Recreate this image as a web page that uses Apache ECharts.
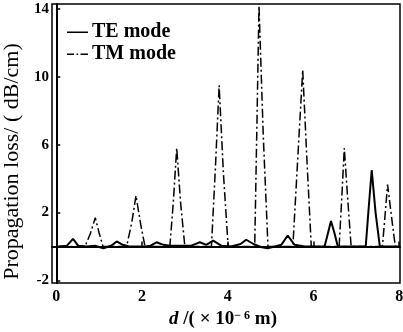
<!DOCTYPE html>
<html>
<head>
<meta charset="utf-8">
<script src="https://cdn.jsdelivr.net/npm/echarts@6/dist/echarts.min.js"></script>
<style>
  html, body { margin: 0; padding: 0; background: #fff; }
  #chart { width: 403px; height: 332px; }
</style>
</head>
<body>
<div id="chart"></div>
<script>
// TE mode: solid, small ripples near zero and two larger bumps at the right
const teData = [
  [0.05, 0], [0.25, 0.05], [0.39, 0.45], [0.51, 0.05], [0.7, 0], [0.9, 0.05],
  [1.1, -0.1], [1.28, 0.05], [1.41, 0.3], [1.55, 0.1], [1.7, 0], [2.07, 0],
  [2.2, 0.05], [2.34, 0.25], [2.5, 0.1], [2.65, 0.05], [2.9, 0.05], [3.15, 0.05],
  [3.35, 0.25], [3.5, 0.1], [3.66, 0.35], [3.85, 0.05], [4.08, 0], [4.3, 0.15],
  [4.43, 0.4], [4.6, 0.15], [4.8, -0.05], [4.93, -0.1], [5.1, 0], [5.25, 0.1],
  [5.4, 0.65], [5.56, 0.1], [5.8, 0], [6.0, 0], [6.26, 0], [6.34, 0.8],
  [6.41, 1.5], [6.49, 0.8], [6.57, 0], [6.9, 0], [7.22, 0], [7.29, 2.3],
  [7.36, 4.5], [7.45, 2.0], [7.55, 0], [7.7, 0], [8.0, 0]
]

// TM mode: dash-dot, narrow resonance peaks
const tmData = [
  [0.05, 0], [0.67, 0], [0.8, 0.8], [0.91, 1.7], [1.0, 0.8], [1.09, 0],
  [1.64, 0], [1.76, 1.4], [1.86, 3.0], [1.97, 1.3], [2.07, 0],
  [2.65, 0], [2.73, 2.6], [2.81, 5.8], [2.9, 2.6], [3.0, 0],
  [3.62, 0], [3.71, 4.5], [3.8, 9.5], [3.9, 4.3], [4.01, 0],
  [4.63, 0], [4.68, 7.0], [4.73, 14.2], [4.83, 6.5], [4.94, 0],
  [5.52, 0], [5.63, 5.0], [5.75, 10.4], [5.85, 5.0], [5.95, 0],
  [6.6, 0], [6.66, 2.8], [6.72, 5.8], [6.8, 2.8], [6.88, 0],
  [7.61, 0], [7.67, 1.8], [7.73, 3.65], [7.82, 1.8], [7.91, 0], [8.0, 0]
]

const xTicks = [0, 2, 4, 6, 8]
const yTicks = [-2, 2, 6, 10, 14]
const seriesNames = ['TE mode', 'TM mode']

const serif = '"Liberation Serif", "DejaVu Serif", serif'

// legend line samples (tiny corner marks keep the icon box 21x14)
const boxMarks = 'M0,0h0.01v0.01h-0.01z M20.99,13.99h0.01v0.01h-0.01z '
const teIcon = 'path://' + boxMarks + 'M0,6.5h21v1.6h-21z'
const tmIcon = 'path://' + boxMarks + 'M0,6.5h7v1.4h-7z M9.5,6.5h1.6v1.4h-1.6z M13.5,6.5h7.5v1.4h-7.5z'

const chart = echarts.init(document.getElementById('chart'))

chart.setOption({
  backgroundColor: '#fff',
  animation: false,
  color: ['#000', '#000'],
  textStyle: { fontFamily: serif, color: '#000' },
  grid: {
    left: 52, right: 3, top: 4, bottom: 49,
    outerBoundsMode: 'none',
    containLabel: false,
    show: true,
    borderColor: '#000',
    borderWidth: 1.5
  },
  legend: {
    orient: 'vertical',
    left: 62,
    top: 17,
    padding: 5,
    itemWidth: 21,
    itemHeight: 14,
    itemGap: 2,
    data: [
      { name: seriesNames[0], icon: teIcon },
      { name: seriesNames[1], icon: tmIcon }
    ],
    textStyle: { fontFamily: serif, fontSize: 20, lineHeight: 20, fontWeight: 'bold', color: '#000', padding: [0, 0, 0, -1] }
  },
  xAxis: {
    type: 'value',
    min: -0.1,
    max: 8.02,
    name: '{i|d} /( × 10{sup|− 6} m)',
    nameLocation: 'middle',
    nameGap: 20,
    nameTextStyle: {
      fontFamily: serif,
      fontSize: 19,
      fontWeight: 'bold',
      color: '#000',
      padding: [0, 0, 0, -6],
      rich: {
        i: { fontFamily: serif, fontSize: 19, fontStyle: 'italic', fontWeight: 'bold', color: '#000' },
        sup: { fontFamily: serif, fontSize: 12, fontWeight: 'bold', color: '#000', verticalAlign: 'top' }
      }
    },
    axisLine: { lineStyle: { color: '#000', width: 2 } },
    axisTick: { inside: true, length: 5, customValues: xTicks, lineStyle: { color: '#000', width: 1.5 } },
    axisLabel: { customValues: xTicks, margin: 6, fontFamily: serif, fontSize: 16, fontWeight: 'bold', color: '#000' },
    splitLine: { show: false }
  },
  yAxis: {
    type: 'value',
    min: -2.15,
    max: 14.3,
    name: 'Propagation loss/ ( dB/cm)',
    nameLocation: 'middle',
    nameGap: 26,
    nameTextStyle: { fontFamily: serif, fontSize: 22, color: '#000', padding: [0, 36, 0, 0] },
    axisLine: { lineStyle: { color: '#000', width: 2 } },
    axisTick: { inside: true, length: 4, customValues: yTicks, lineStyle: { color: '#000', width: 1.5 } },
    axisLabel: { customValues: yTicks, margin: 3, fontFamily: serif, fontSize: 15, fontWeight: 'bold', color: '#000' },
    splitLine: { show: false }
  },
  series: [
    {
      name: seriesNames[0],
      type: 'line',
      data: teData,
      symbol: 'none',
      itemStyle: { color: '#000' },
      lineStyle: { color: '#000', width: 2 },
      z: 3
    },
    {
      name: seriesNames[1],
      type: 'line',
      data: tmData,
      symbol: 'none',
      itemStyle: { color: '#000' },
      lineStyle: { color: '#000', width: 1.5, type: [9, 3, 2, 3] },
      z: 2
    }
  ]
})
</script>
</body>
</html>
